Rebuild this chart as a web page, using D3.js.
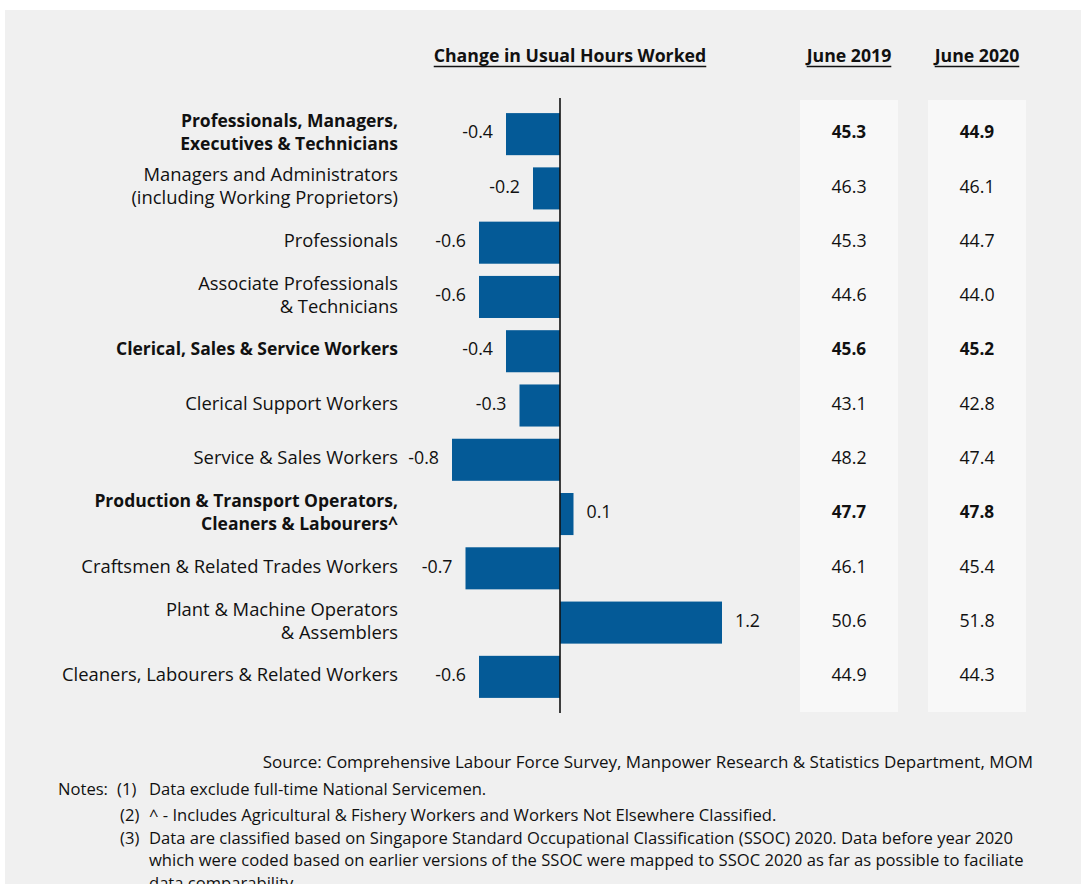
<!DOCTYPE html>
<html><head><meta charset="utf-8">
<script src="https://cdn.jsdelivr.net/npm/d3@7"></script>
<style>
html,body{margin:0;padding:0;background:#fff;}
svg{display:block;}
text{font-family:"Open Sans","Noto Sans",sans-serif;fill:#111;}
</style></head>
<body>
<script>
const categories = [
  ["Professionals, Managers,", "Executives & Technicians"],
  ["Managers and Administrators", "(including Working Proprietors)"],
  ["Professionals"],
  ["Associate Professionals", "& Technicians"],
  ["Clerical, Sales & Service Workers"],
  ["Clerical Support Workers"],
  ["Service & Sales Workers"],
  ["Production & Transport Operators,", "Cleaners & Labourers^"],
  ["Craftsmen & Related Trades Workers"],
  ["Plant & Machine Operators", "& Assemblers"],
  ["Cleaners, Labourers & Related Workers"]
];
const isGroup = [true,false,false,false,true,false,false,true,false,false,false];
const change = [-0.4,-0.2,-0.6,-0.6,-0.4,-0.3,-0.8,0.1,-0.7,1.2,-0.6];
const june2019 = ["45.3","46.3","45.3","44.6","45.6","43.1","48.2","47.7","46.1","50.6","44.9"];
const june2020 = ["44.9","46.1","44.7","44.0","45.2","42.8","47.4","47.8","45.4","51.8","44.3"];
const columns = ["June 2019","June 2020"];
const chartTitle = "Change in Usual Hours Worked";
const sourceText = "Source: Comprehensive Labour Force Survey, Manpower Research & Statistics Department, MOM";
const notes = [
  ["(1)", "Data exclude full-time National Servicemen."],
  ["(2)", "^ - Includes Agricultural & Fishery Workers and Workers Not Elsewhere Classified."],
  ["(3)", "Data are classified based on Singapore Standard Occupational Classification (SSOC) 2020. Data before year 2020"],
  ["", "which were coded based on earlier versions of the SSOC were mapped to SSOC 2020 as far as possible to faciliate"],
  ["", "data comparability."]
];

const W = 1081, H = 884;
const svg = d3.select("body").append("svg").attr("width", W).attr("height", H);
svg.append("rect").attr("x",5).attr("y",10).attr("width",W-5).attr("height",H-10).attr("fill","#f0f0f0");

const x = d3.scaleLinear().domain([-1, 1.5]).range([425, 762.5]);
const y = d3.scaleBand().domain(d3.range(categories.length)).range([107, 704]).paddingInner(0.225).paddingOuter(0.1125);
const colX = d3.scalePoint().domain(columns).range([849, 977]);

const labelSize = 18.4, boldLabelSize = 17.5, valSize = 17.8, noteSize = 16.6;

// table column backgrounds
svg.selectAll("rect.col").data(columns).join("rect")
  .attr("x", d => colX(d) - 49).attr("y", 100).attr("width", 98).attr("height", 612)
  .attr("fill", "#f8f8f8");

// bars
const barColor = "#045a97";
svg.selectAll("rect.bar").data(change).join("rect")
  .attr("class","bar")
  .attr("x", d => x(Math.min(0, d)))
  .attr("width", d => Math.abs(x(d) - x(0)))
  .attr("y", (d,i) => y(i))
  .attr("height", y.bandwidth())
  .attr("fill", barColor);

// zero axis
svg.append("line").attr("x1", x(0)).attr("x2", x(0)).attr("y1", 98).attr("y2", 713)
  .attr("stroke", "#111").attr("stroke-width", 1.6);

// value labels
svg.selectAll("text.val").data(change).join("text")
  .attr("x", d => d < 0 ? x(d) - 13 : x(d) + 13)
  .attr("y", (d,i) => y(i) + y.bandwidth()/2 - 2)
  .attr("dy", "0.35em")
  .attr("text-anchor", d => d < 0 ? "end" : "start")
  .attr("font-size", valSize)
  .text(d => d.toFixed(1));

// category labels
categories.forEach((lines, i) => {
  const cy = y(i) + y.bandwidth()/2 - 2;
  const t = svg.append("text")
    .attr("x", 398).attr("text-anchor", "end")
    .attr("font-size", isGroup[i] ? boldLabelSize : labelSize)
    .attr("font-weight", isGroup[i] ? "bold" : "normal");
  const n = lines.length;
  lines.forEach((l, k) => {
    t.append("tspan").attr("x", 398)
      .attr("y", cy + (k - (n-1)/2) * 23)
      .attr("dy", "0.35em")
      .text(l);
  });
});

// table values
[june2019, june2020].forEach((arr, c) => {
  svg.selectAll(null).data(arr).join("text")
    .attr("x", colX(columns[c]))
    .attr("y", (d,i) => y(i) + y.bandwidth()/2 - 2)
    .attr("dy", "0.35em")
    .attr("text-anchor", "middle")
    .attr("font-size", (d,i) => isGroup[i] ? 17.2 : valSize)
    .attr("font-weight", (d,i) => isGroup[i] ? "bold" : "normal")
    .text(d => d);
});

// headers with underline
function header(txt, cx) {
  const t = svg.append("text").attr("x", cx).attr("y", 62)
    .attr("text-anchor", "middle").attr("font-size", 17.7).attr("font-weight", "bold").text(txt);
  const w = t.node().getComputedTextLength();
  svg.append("line").attr("x1", cx - w/2).attr("x2", cx + w/2).attr("y1", 66.5).attr("y2", 66.5)
    .attr("stroke", "#111").attr("stroke-width", 1.3);
}
header(chartTitle, 570);
columns.forEach(c => header(c, colX(c)));

// source + notes
svg.append("text").attr("x", 1033).attr("y", 768).attr("text-anchor", "end")
  .attr("font-size", 17).attr("fill", "#222").text(sourceText);
svg.append("text").attr("x", 58).attr("y", 795).attr("font-size", noteSize).attr("fill", "#222").text("Notes:");
notes.forEach((n, i) => {
  const yy = [795, 821, 844, 866, 889][i];
  if (n[0]) svg.append("text").attr("x", i === 0 ? 117 : 120).attr("y", yy).attr("font-size", noteSize).attr("fill", "#222").text(n[0]);
  svg.append("text").attr("x", 149).attr("y", yy).attr("font-size", noteSize).attr("fill", "#222").text(n[1]);
});
</script>
</body></html>
